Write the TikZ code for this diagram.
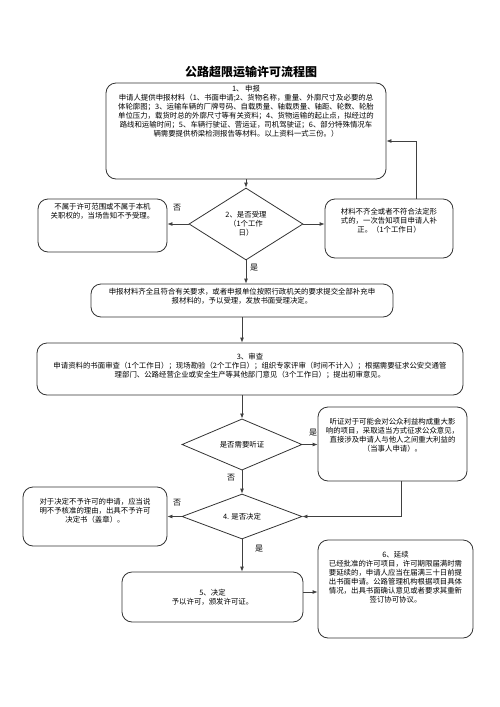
\documentclass[tikz,border=0pt]{standalone}
\usepackage{fontspec}
\setmainfont{Noto Sans CJK SC}
\usetikzlibrary{shapes.geometric,arrows.meta,positioning}
\tikzset{
  stepbox/.style={draw=black!80, line width=0.8pt, rounded corners=10pt, inner sep=0pt},
  ask/.style={draw=black!80, line width=0.8pt, diamond, inner sep=0pt, align=center,
    font=\fontsize{7.4}{9}\selectfont},
  txt/.style={align=center, inner sep=0pt, font=\fontsize{7.4}{9}\selectfont},
  tag/.style={inner sep=0pt, font=\fontsize{8}{9}\selectfont}
}
\begin{document}
\begin{tikzpicture}[x=1pt,y=-1pt]
      \useasboundingbox (0,0) rectangle (500,707);
      \node[font=\bfseries\fontsize{12}{14}\selectfont] (title) at (251,72) {公路超限运输许可流程图};
      \node[stepbox, minimum width=280, minimum height=96] (b1) at (246,131) {};
      \node[txt, below=2pt of b1.north] (t1) {1、 申报\\
        申请人提供申报材料（1、书面申请;2、货物名称，重量、外廓尺寸及必要的总\\
        体轮廓图；3、运输车辆的厂牌号码、自载质量、轴载质量、轴距、轮数、轮胎\\
        单位压力，载货时总的外廓尺寸等有关资料；4、货物运输的起止点，拟经过的\\
        路线和运输时间；5、车辆行驶证、营运证，司机驾驶证；6、部分特殊情况车\\
        辆需要提供桥梁检测报告等材料。以上资料一式三份。）};
      \node[ask, minimum width=114, minimum height=72] (d2) at (246,224) {2、是否受理\\（1个工作\\日）};
      \node[stepbox, minimum width=129, minimum height=53] (b2n) at (102.5,225.5) {};
      \node[txt, below=4pt of b2n.north] (t2n) {不属于许可范围或不属于本机\\关职权的，当场告知不予受理。};
      \node[stepbox, minimum width=128, minimum height=59] (b2y) at (389,228.5) {};
      \node[txt, below=9pt of b2y.north] (t2y) {材料不齐全或者不符合法定形\\式的，一次告知项目申请人补\\正。（1个工作日）};
      \node[stepbox, minimum width=302, minimum height=33] (b2) at (242,300.5) {};
      \node[txt, below=4pt of b2.north] (t2) {申报材料齐全且符合有关要求，或者申报单位按照行政机关的要求提交全部补充申\\
        报材料的，予以受理，发放书面受理决定。};
      \node[stepbox, minimum width=426, minimum height=52] (b3) at (250,369) {};
      \node[txt, below=10pt of b3.north] (t3) {3、审查\\
        申请资料的书面审查（1个工作日）；现场勘验（2个工作日）；组织专家评审（时间不计入）；根据需要征求公安交通管\\
        理部门、公路经营企业或安全生产等其他部门意见（3个工作日）；提出初审意见。};
      \node[ask, minimum width=120, minimum height=45] (d3) at (242,444.5) {是否需要听证};
      \node[stepbox, minimum width=149, minimum height=74] (b3h) at (392.5,444) {};
      \node[txt, below=11pt of b3h.north] (t3h) {听证对于可能会对公众利益构成重大影\\响的项目，采取适当方式征求公众意见，\\
        直接涉及申请人与他人之间重大利益的\\（当事人申请）。};
      \node[ask, minimum width=120, minimum height=45] (d4) at (242,516.5) {4. 是否决定};
      \node[stepbox, minimum width=144, minimum height=59] (b4n) at (95,516.5) {};
      \node[txt, below=11pt of b4n.north] (t4n) {对于决定不予许可的申请，应当说\\明不予核准的理由，出具不予许可\\决定书（盖章）。};
      \node[stepbox, txt, minimum width=181, minimum height=50] (b5) at (212.5,597) {5、决定\\予以许可，颁发许可证。};
      \node[stepbox, minimum width=155, minimum height=98] (b6) at (395.5,589) {};
      \node[txt, below=11pt of b6.north] (t6) {6、延续\\
        已经批准的许可项目，许可期限届满时需\\要延续的，申请人应当在届满三十日前提\\
        出书面申请。公路管理机构根据项目具体\\情况，出具书面确认意见或者要求其重新\\
        签订协可协议。};
      \node[tag] (n1) at (177,208) {否};
      \node[tag] (y1) at (254,268) {是};
      \node[tag] (y2) at (313,433) {是};
      \node[tag] (n2) at (231,478) {否};
      \node[tag] (n3) at (177,503) {否};
      \node[tag] (y3) at (259,549) {是};
      \begin{scope}[->, >={Latex[length=5pt,width=4pt]}, draw=black!75, line width=0.8pt]
        \draw (b1.south) -- (d2.north);
        \draw (d2.west) -- (d2.west -| b2n.east);
        \draw (d2.east) -- (d2.east -| b2y.west);
        \draw ([xshift=27pt]b2y.north) |- ([yshift=-10pt]b1.east);
        \draw (d2.south) -- (d2.south |- b2.north);
        \draw (b2.south) -- (b2.south |- b3.north);
        \draw (d3.north |- b3.south) -- (d3.north);
        \draw (d3.east) -- (d3.east -| b3h.west);
        \draw (d3.south) -- (d4.north);
        \draw ([xshift=8.5pt]b3h.south) |- (d4.east);
        \draw (d4.west) -- (d4.west -| b4n.east);
        \draw (d4.south) -- (d4.south |- b5.north);
        \draw ([yshift=5pt]b5.east) -- ([yshift=5pt]b5.east -| b6.west);
      \end{scope}
    \end{tikzpicture}
\end{document}
